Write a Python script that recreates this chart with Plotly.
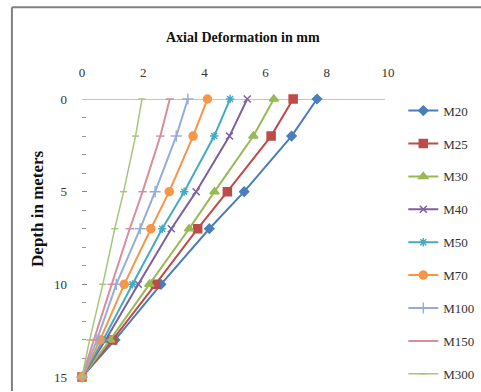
import plotly.graph_objects as go

depth = [0, 2, 5, 7, 10, 13, 15]
series_names = ["M20", "M25", "M30", "M40", "M50", "M70", "M100", "M150", "M300"]
m20 = [7.68, 6.85, 5.30, 4.16, 2.58, 1.08, 0]
m25 = [6.90, 6.18, 4.75, 3.78, 2.40, 1.00, 0]
m30 = [6.27, 5.60, 4.33, 3.50, 2.20, 0.92, 0]
m40 = [5.40, 4.82, 3.73, 2.92, 1.84, 0.77, 0]
m50 = [4.84, 4.32, 3.34, 2.62, 1.65, 0.69, 0]
m70 = [4.10, 3.63, 2.85, 2.25, 1.38, 0.59, 0]
m100 = [3.46, 3.08, 2.39, 1.90, 1.12, 0.49, 0]
m150 = [2.87, 2.56, 1.98, 1.56, 0.97, 0.40, 0]
m300 = [1.96, 1.75, 1.36, 1.07, 0.68, 0.25, 0]
values = [m20, m25, m30, m40, m50, m70, m100, m150, m300]
x_ticks = [0, 2, 4, 6, 8, 10]
y_ticks = [0, 5, 10, 15]

colors = ["#4A7EBB", "#BE4B48", "#98B954", "#7D60A0", "#46AAC5", "#F79646",
          "#95ADD8", "#D98D9E", "#A9C47F"]
symbols = ["diamond", "square", "triangle-up", "x-thin-open", "asterisk-open",
           "circle", "cross-thin-open", "line-ew-open", "line-ew-open"]
sizes = [7, 8, 8, 7, 7, 8, 8, 6, 5]

fig = go.Figure()
for i, (name, vals) in enumerate(zip(series_names, values)):
    fig.add_trace(go.Scatter(
        x=vals, y=depth, name=name, mode="lines+markers",
        line=dict(color=colors[i], width=2 if i < 8 else 1.5),
        marker=dict(symbol=symbols[i], size=sizes[i], color=colors[i],
                    line=dict(color=colors[i], width=1.5)),
        legendgroup=name, cliponaxis=False,
    ))

fig.update_layout(
    width=481, height=392,
    margin=dict(l=82, r=93, t=99, b=15, autoexpand=False),
    paper_bgcolor="white", plot_bgcolor="white",
    font=dict(family="Liberation Serif", size=13, color="#222"),
    showlegend=True,
    legend=dict(x=1.05, y=1.012, xanchor="left", yanchor="top",
                font=dict(family="Liberation Serif", size=13, color="#333"),
                tracegroupgap=13, itemwidth=30, bgcolor="rgba(0,0,0,0)",
                maxheight=1000),
    xaxis=dict(side="top", range=[0, 10], tickvals=x_ticks, showgrid=False,
               zeroline=False, showline=False, ticks="", ticklabelstandoff=18,
               tickfont=dict(family="Liberation Serif", size=13, color="#333")),
    yaxis=dict(range=[15, 0], tickvals=y_ticks, showgrid=False, zeroline=False,
               showline=False, ticks="inside", ticklen=5, tickcolor="#888",
               ticklabelstandoff=14,
               minor=dict(dtick=1, ticks="inside", ticklen=4, tickcolor="#999"),
               tickfont=dict(family="Liberation Serif", size=13, color="#333")),
    shapes=[
        dict(type="line", xref="paper", yref="y", x0=0, x1=0.99, y0=0, y1=0,
             line=dict(color="#8c8c8c", width=1), layer="below"),
        dict(type="line", xref="paper", yref="paper", x0=-0.229, x1=1.4,
             y0=1.33, y1=1.33, line=dict(color="#808080", width=2)),
        dict(type="line", xref="paper", yref="paper", x0=-0.229, x1=-0.229,
             y0=1.33, y1=-0.05, line=dict(color="#808080", width=2)),
    ],
    annotations=[
        dict(text="<b>Axial Deformation in mm</b>", xref="paper", yref="paper",
             x=0.526, y=1.223, xanchor="center", yanchor="middle",
             showarrow=False,
             font=dict(family="Liberation Serif", size=14, color="#111")),
        dict(text="<b>Depth in meters</b>", xref="paper", yref="paper",
             x=-0.144, y=0.608, xanchor="center", yanchor="middle",
             showarrow=False, textangle=-90,
             font=dict(family="Liberation Serif", size=17, color="#111")),
    ],
)

fig.write_html("out.html")
